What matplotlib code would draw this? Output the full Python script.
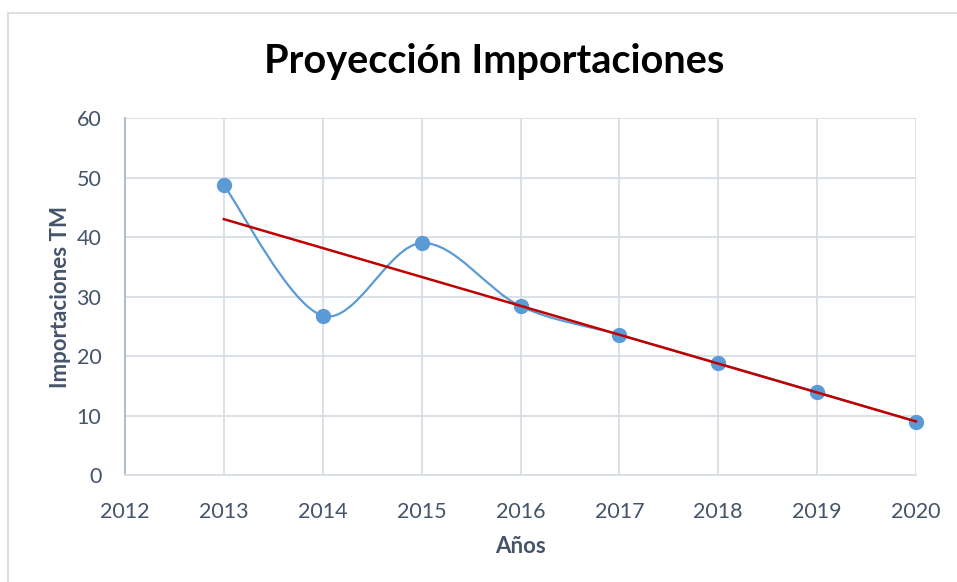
import numpy as np
import matplotlib
matplotlib.use("Agg")
import matplotlib.pyplot as plt
from matplotlib.patches import Rectangle
from matplotlib.path import Path
from matplotlib.patches import PathPatch

years = [2013, 2014, 2015, 2016, 2017, 2018, 2019, 2020]
imports = [48.7, 26.8, 39.0, 28.4, 23.6, 18.8, 13.95, 9.0]
title = "Proyección Importaciones"
xlabel = "Años"
ylabel = "Importaciones TM"
xticks = [2012, 2013, 2014, 2015, 2016, 2017, 2018, 2019, 2020]
yticks = [0, 10, 20, 30, 40, 50, 60]

plt.rcParams['font.family'] = ['Lato', 'DejaVu Sans']
TICK = '#44546A'
GRID = '#D9DEE6'
BLUE = '#5B9BD5'
RED = '#C00000'

fig = plt.figure(figsize=(9.57, 5.82), dpi=100)
fig.patch.set_facecolor('white')
# outer chart border (only left/top visible)
fig.patches.append(Rectangle((8/957, -0.2), 1.2, 1.2 - 13/582, transform=fig.transFigure,
                             fill=False, edgecolor='#D9D9D9', linewidth=1.2))

ax = fig.add_axes([125/957, 106.7/582, (916-125)/957, (475.3-118)/582])
ax.set_xlim(2012, 2020)
ax.set_ylim(0, 60)
ax.set_xticks(xticks)
ax.set_yticks(yticks)
ax.grid(True, color=GRID, linewidth=1.3)
ax.set_axisbelow(True)
for s in ['top', 'right']:
    ax.spines[s].set_visible(False)
ax.spines['left'].set_color('#ADB6C4')
ax.spines['left'].set_linewidth(1.3)
ax.spines['bottom'].set_color(GRID)
ax.spines['bottom'].set_linewidth(1.3)
ax.tick_params(length=0, labelsize=15.5, colors=TICK)
ax.tick_params(axis='x', pad=19)
ax.tick_params(axis='y', pad=17)

# smoothed line (Catmull-Rom as cubic Bezier)
x = np.array(years, float)
y = np.array(imports, float)
pts = np.column_stack([x, y])
verts = [tuple(pts[0])]
codes = [Path.MOVETO]
n = len(pts)
for i in range(n - 1):
    p0 = pts[i - 1] if i > 0 else pts[i]
    p1 = pts[i]
    p2 = pts[i + 1]
    p3 = pts[i + 2] if i + 2 < n else pts[i + 1]
    c1 = p1 + (p2 - p0) / 6.0
    c2 = p2 - (p3 - p1) / 6.0
    verts += [tuple(c1), tuple(c2), tuple(p2)]
    codes += [Path.CURVE4] * 3
ax.add_patch(PathPatch(Path(verts, codes), fill=False, edgecolor=BLUE, linewidth=1.6, zorder=3))
ax.plot(x, y, linestyle='none', marker='o', markersize=10, color=BLUE, zorder=4, clip_on=False)

# linear trend
coef = np.polyfit(x, y, 1)
ax.plot([x[0], x[-1]], np.polyval(coef, [x[0], x[-1]]), color=RED, linewidth=1.8, zorder=5, clip_on=False)

ax.set_xlabel(xlabel, fontsize=16, fontweight='bold', color=TICK, labelpad=10)
ax.set_ylabel(ylabel, fontsize=16, fontweight='bold', color=TICK, labelpad=4)
fig.text(0.5165, 1 - 62/582, title, ha='center', va='center', fontsize=28.5, fontweight='bold', color='black')

fig.savefig('out.png', dpi=100, facecolor='white')
